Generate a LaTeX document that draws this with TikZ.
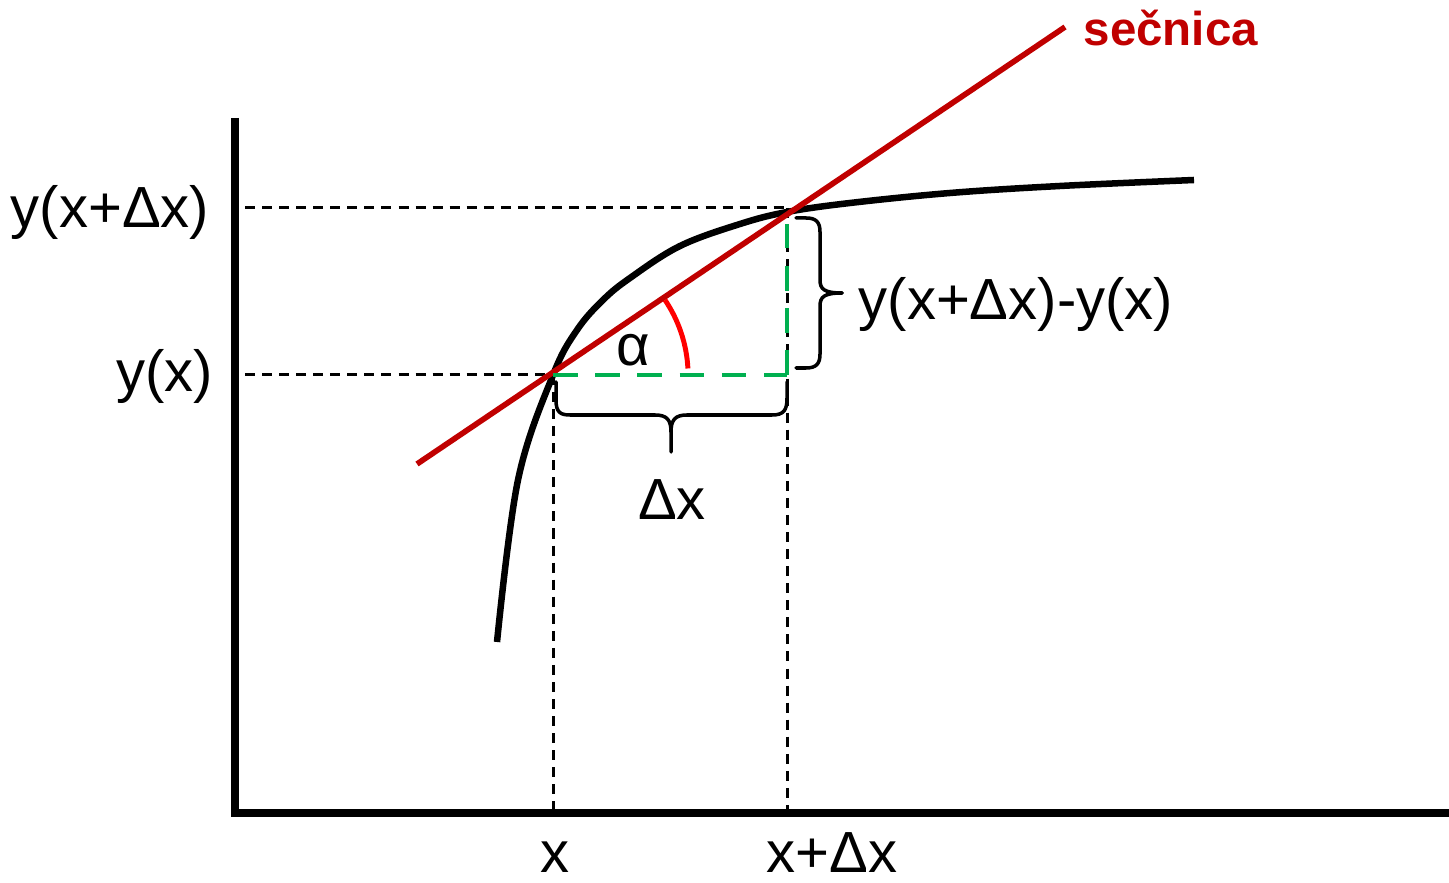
\documentclass[tikz,border=0pt]{standalone}
\usepackage{fontspec}
\setmainfont{Liberation Sans}
\begin{document}
\begin{tikzpicture}[x=0.01cm,y=-0.01cm,
  axis/.style={line width=2pt},
  guide/.style={line width=0.85pt,dash pattern=on 2.85pt off 2pt},
  greendash/.style={line width=1.3pt,color=gbar,dash pattern=on 7pt off 5pt},
  curveline/.style={line width=1.85pt},
  secant/.style={line width=1.6pt,color=sred},
  bracepath/.style={line width=1pt,line cap=round,line join=round},
  lab/.style={font=\fontsize{16.5pt}{19pt}\selectfont,inner sep=0pt}]
\definecolor{gbar}{HTML}{00B050}
\definecolor{sred}{HTML}{C00000}
\definecolor{ared}{HTML}{FF0000}
\useasboundingbox (0,0) rectangle (1449,883);
% key points
\coordinate (O) at (235,813);
\coordinate (Ytop) at (235,118);
\coordinate (Xend) at (1449,813);
\coordinate (A) at (553,375);
\coordinate (B) at (787,211);
\coordinate (Bh) at (787,208);
\coordinate (Ax) at (553,813);
\coordinate (Bx) at (787,813);
\coordinate (Ay) at (245,375);
\coordinate (By) at (245,208);
\coordinate (C) at (787,375);
\coordinate (S1) at (417,464);
\coordinate (S2) at (1065,27);
% guides
\draw[guide] (Ay) -- (A);
\draw[guide] (By) -- (Bh);
\draw[guide] (A) -- (Ax);
\draw[guide] (Bh) -- (Bx);
% axes
\draw[axis] (Ytop) -- (O.center) -- (Xend);
% curve
\draw[curveline] plot[smooth,tension=0.6] coordinates {(497,642) (518,480) (553,375) (577,330) (603,300) (630,278) (680,246) (740,224) (787,212) (850,203) (950,193) (1060,186) (1194,180)};
% secant
\draw[secant] (S1) -- (S2);
% green legs
\draw[greendash] (A) -- (C);
\draw[greendash] (C) -- (B);
% angle arc
\draw[line width=1.4pt,color=ared] (665,300) arc[start angle=34,end angle=3,radius=1.35cm];
% bottom brace
\draw[bracepath] (556,382) -- (556,400) .. controls (556,412) and (560,415) .. (570,415) -- (655,415) .. controls (667,415) and (671,420) .. (671,432) -- (671,452);
\draw[bracepath] (671,432) .. controls (671,420) and (675,415) .. (687,415) -- (772,415) .. controls (784,415) and (787,410) .. (787,398) -- (787,382);
% right brace
\draw[bracepath] (796,218) -- (806,218) .. controls (816,218) and (820,222) .. (820,232) -- (820,280) .. controls (820,289) and (824,293) .. (842,293);
\draw[bracepath] (842,293) .. controls (824,293) and (820,297) .. (820,306) -- (820,354) .. controls (820,364) and (816,368) .. (806,368) -- (796,368);
% labels
\node[lab,anchor=east] (lyb) at (210,213) {y(x+Δx)};
\node[lab,anchor=east] (lya) at (214,377) {y(x)};
\node[lab] (lalpha) at (633,350) {α};
\node[lab] (ldx) at (672,500) {Δx};
\node[lab,anchor=west] (ldy) at (858,305) {y(x+Δx)-y(x)};
\node[lab,anchor=base] (lx) at (555,872) {x};
\node[lab,anchor=base] (lxdx) at (832,872) {x+Δx};
\node[inner sep=0pt,anchor=west,color=sred,font=\fontsize{13.5pt}{16pt}\selectfont\bfseries] (lsec) at (1083,28) {sečnica};
\end{tikzpicture}
\end{document}
